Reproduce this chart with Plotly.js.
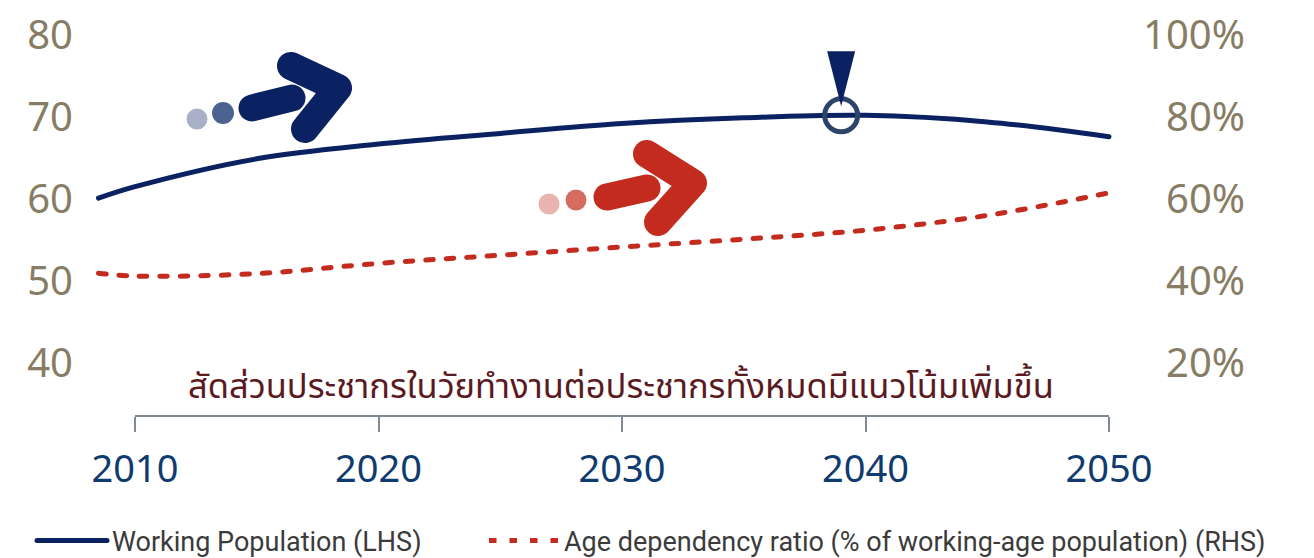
<!DOCTYPE html>
<html>
<head>
<meta charset="utf-8">
<script src="https://cdn.plot.ly/plotly-3.0.1.min.js"></script>
<style>
html,body{margin:0;padding:0;background:#fff;}
#chart{width:1314px;height:558px;}
.shapelayer path{stroke-linecap:round;stroke-linejoin:round;}
.scatterlayer .js-line{stroke-linecap:round;}
.legend .js-line{stroke-linecap:round;}
</style>
</head>
<body>
<div id="chart"></div>
<script>
// ---- data ----
const years = [2008.5, 2010, 2015, 2020, 2025, 2030, 2035, 2040, 2045, 2050];
const workingPop = [60.1, 61.5, 64.9, 66.7, 68.0, 69.2, 69.9, 70.2, 69.4, 67.6];
const dependencyRatio = [41.9, 41.2, 41.8, 44.3, 46.3, 48.3, 50.2, 52.4, 56.0, 61.5];
const peakYear = [2039];
const peakValue = [70.2];
const xTicks = [2010, 2020, 2030, 2040, 2050];
const leftTicks = [40, 50, 60, 70, 80];
const rightTicks = [20, 40, 60, 80, 100];
const rightTickLabels = ['20%', '40%', '60%', '80%', '100%'];
const seriesNames = ['Working Population (LHS)', 'Age dependency ratio (% of working-age population) (RHS)'];
const noteText = 'สัดส่วนประชากรในวัยทำงานต่อประชากรทั้งหมดมีแนวโน้มเพิ่มขึ้น';

// ---- layout geometry ----
const W = 1314, H = 558;
const M = {l: 80, r: 64, t: 10, b: 143, autoexpand: false};
const PW = W - M.l - M.r, PH = H - M.t - M.b;
const px = x => (x - M.l) / PW;
const py = y => (M.t + PH - y) / PH;

const NAVY = '#0b2262', RED = '#c42b1f';

function seg(pts){ return 'M' + pts.map(p => px(p[0]).toFixed(5) + ',' + py(p[1]).toFixed(5)).join(' L'); }
function dot(cx, cy, r, color){
  return {type:'circle', xref:'paper', yref:'paper', x0:px(cx-r), x1:px(cx+r), y0:py(cy+r), y1:py(cy-r),
          fillcolor:color, line:{width:0}, layer:'above'};
}
function stroke(pts, color, w){
  return {type:'path', xref:'paper', yref:'paper', path:seg(pts), line:{color:color, width:w}, layer:'above'};
}

const shapes = [
  // blue arrow icon
  dot(197, 119, 10.5, '#a8b1c8'),
  dot(223, 113, 11, '#4c6290'),
  stroke([[252,108],[292,98]], NAVY, 27),
  stroke([[291,66],[338,88],[305,129]], NAVY, 28),
  // red arrow icon
  dot(549, 204, 10.5, '#e9b4af'),
  dot(576, 200, 10.5, '#d66b60'),
  stroke([[607,197],[647,188]], RED, 27),
  stroke([[647,154],[693,183],[658,222]], RED, 28),
  // pin over the peak
  {type:'path', xref:'x', yref:'y', xsizemode:'pixel', ysizemode:'pixel',
   xanchor: peakYear[0], yanchor: peakValue[0],
   path:'M-14,64 L14,64 L0,9 Z', fillcolor:NAVY, line:{width:0}, layer:'above'}
];

const traces = [
  {x: years, y: workingPop, name: seriesNames[0], type:'scatter', mode:'lines', legend:'legend',
   line:{color:NAVY, width:5, shape:'spline', smoothing:1}, yaxis:'y', xaxis:'x'},
  {x: years, y: dependencyRatio, name: seriesNames[1], type:'scatter', mode:'lines', legend:'legend2',
   line:{color:RED, width:5, dash:'7.5px,13px', shape:'spline', smoothing:1}, yaxis:'y2', xaxis:'x'},
  {x: peakYear, y: peakValue, type:'scatter', mode:'markers', showlegend:false, hoverinfo:'skip',
   marker:{symbol:'circle-open', size:33, color:'#2b4468', line:{width:5, color:'#2b4468'}}, xaxis:'x', yaxis:'y'},
  // carrier for the year axis (draws nothing)
  {x: xTicks, y: xTicks.map(() => null), type:'scatter', mode:'lines', showlegend:false, hoverinfo:'skip',
   xaxis:'x2', yaxis:'y'}
];

// x mapping: 2010 -> 135px, 2050 -> 1109px
const k = (1109 - 135) / 40;
const xr0 = 2010 - (135 - M.l) / k;
const xr1 = 2010 + (M.l + PW - 135) / k;
// y mapping: 80 -> 35px, 40 -> 363px
const ky = (363 - 35) / 40;
const yTop = 80 + (35 - M.t) / ky, yBot = 40 - (M.t + PH - 363) / ky;
const ky2 = (363 - 35) / 80;
const y2Top = 100 + (35 - M.t) / ky2, y2Bot = 20 - (M.t + PH - 363) / ky2;

const tickFontFamily = '"Noto Sans", "Open Sans", sans-serif';
const legendFont = {family:'"Liberation Sans Narrow", "Roboto", sans-serif', size:27, color:'#3b3b3b'};

const layout = {
  width: W, height: H,
  margin: M,
  paper_bgcolor:'#fff', plot_bgcolor:'rgba(0,0,0,0)',
  showlegend: true,
  xaxis: {range:[xr0, xr1], visible:false, fixedrange:true},
  xaxis2: {domain:[px(135), px(1109)], range:[2010, 2050], anchor:'y',
    tickmode:'array', tickvals: xTicks, ticks:'outside', ticklen:15, tickwidth:2, tickcolor:'#7f8a94',
    showline:true, linecolor:'#7f8a94', linewidth:2, showgrid:false, zeroline:false,
    tickfont:{family:tickFontFamily, size:38, color:'#0f3b70'}, ticklabelstandoff:4},
  yaxis: {range:[yBot, yTop], tickmode:'array', tickvals: leftTicks, showgrid:false, zeroline:false, showline:false,
    ticks:'', tickfont:{family:tickFontFamily, size:40, color:'#877c64'}, ticklabelstandoff:6},
  yaxis2: {range:[y2Bot, y2Top], tickmode:'array', tickvals: rightTicks, ticktext: rightTickLabels,
    overlaying:'y', side:'left', anchor:'free', position: px(1245), showgrid:false, zeroline:false, showline:false, ticks:'',
    tickfont:{family:tickFontFamily, size:40, color:'#877c64'}},
  legend: {orientation:'h', x: px(32), xanchor:'left', y: py(541), yanchor:'middle',
    font: legendFont, itemwidth:70, bgcolor:'rgba(0,0,0,0)'},
  legend2: {orientation:'h', x: px(484), xanchor:'left', y: py(541), yanchor:'middle',
    font: legendFont, itemwidth:70, bgcolor:'rgba(0,0,0,0)'},
  annotations: [
    {text: noteText, xref:'paper', yref:'paper', x: px(621), y: py(387), xanchor:'center', yanchor:'middle',
     showarrow:false, font:{family:'"Noto Sans Thai", "Noto Sans", "DejaVu Sans", sans-serif', size:34.5, color:'#5b1a1f'}}
  ],
  shapes: shapes
};

Plotly.newPlot('chart', traces, layout, {displayModeBar:false, staticPlot:true});
</script>
</body>
</html>
